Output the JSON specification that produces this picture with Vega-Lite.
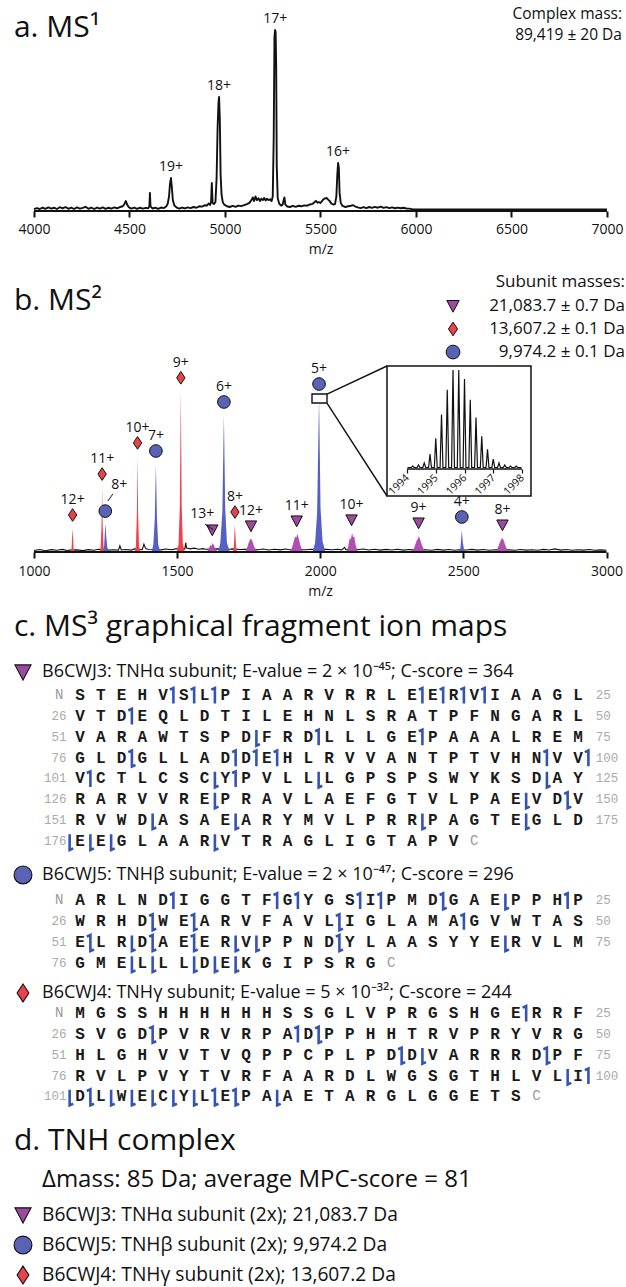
{
"$schema":"https://vega.github.io/schema/vega-lite/v6.json",
"width":626,"height":1287,"autosize":{"type":"none"},"padding":0,"background":"white",
"config":{"view":{"stroke":null},"font":"Open Sans","text":{"font":"Open Sans","color":"#111"}},
"datasets":{
"ms1":[{"mz":4000,"I":1},{"mz":4015,"I":1.6},{"mz":4030,"I":1.1},{"mz":4045,"I":1.9},{"mz":4060,"I":1.2},{"mz":4075,"I":2},{"mz":4090,"I":1.3},{"mz":4105,"I":1.8},{"mz":4120,"I":1.1},{"mz":4135,"I":2.1},{"mz":4150,"I":1.4},{"mz":4165,"I":2.2},{"mz":4180,"I":1.2},{"mz":4195,"I":1.9},{"mz":4210,"I":1.1},{"mz":4225,"I":2},{"mz":4240,"I":1.3},{"mz":4255,"I":1.7},{"mz":4270,"I":2.3},{"mz":4285,"I":1.2},{"mz":4300,"I":1.8},{"mz":4315,"I":1.1},{"mz":4330,"I":1.9},{"mz":4345,"I":1.3},{"mz":4360,"I":2},{"mz":4375,"I":1.2},{"mz":4390,"I":1.8},{"mz":4405,"I":1.3},{"mz":4420,"I":2},{"mz":4435,"I":1.5},{"mz":4450,"I":2.2},{"mz":4465,"I":2.6},{"mz":4474,"I":4},{"mz":4481,"I":5.5},{"mz":4488,"I":3.5},{"mz":4497,"I":2},{"mz":4510,"I":1.3},{"mz":4525,"I":1.9},{"mz":4540,"I":1.2},{"mz":4555,"I":1.8},{"mz":4570,"I":1.3},{"mz":4585,"I":1.7},{"mz":4598,"I":1.5},{"mz":4604,"I":2.5},{"mz":4607,"I":10},{"mz":4610,"I":2.5},{"mz":4620,"I":1.4},{"mz":4635,"I":1.8},{"mz":4650,"I":1.2},{"mz":4665,"I":1.9},{"mz":4680,"I":1.6},{"mz":4692,"I":2.5},{"mz":4700,"I":4},{"mz":4707,"I":8},{"mz":4712,"I":15},{"mz":4717,"I":18.2},{"mz":4721,"I":14},{"mz":4727,"I":6},{"mz":4735,"I":3},{"mz":4748,"I":1.8},{"mz":4760,"I":1.3},{"mz":4775,"I":1.9},{"mz":4790,"I":1.4},{"mz":4805,"I":2},{"mz":4820,"I":1.6},{"mz":4835,"I":2.2},{"mz":4850,"I":1.8},{"mz":4865,"I":2.6},{"mz":4880,"I":2.4},{"mz":4893,"I":3.2},{"mz":4905,"I":3},{"mz":4915,"I":4.2},{"mz":4922,"I":3.3},{"mz":4927,"I":5},{"mz":4931,"I":15.5},{"mz":4935,"I":4.5},{"mz":4942,"I":3.8},{"mz":4950,"I":5},{"mz":4956,"I":18},{"mz":4961,"I":45},{"mz":4966,"I":60},{"mz":4969,"I":63},{"mz":4973,"I":50},{"mz":4977,"I":20},{"mz":4982,"I":9},{"mz":4988,"I":5},{"mz":4996,"I":3.5},{"mz":5010,"I":2.6},{"mz":5025,"I":2.2},{"mz":5040,"I":2.8},{"mz":5055,"I":2.3},{"mz":5070,"I":3},{"mz":5085,"I":2.7},{"mz":5100,"I":3.2},{"mz":5115,"I":3.8},{"mz":5128,"I":4.5},{"mz":5138,"I":6},{"mz":5146,"I":7.5},{"mz":5152,"I":5.5},{"mz":5160,"I":8},{"mz":5167,"I":6},{"mz":5175,"I":7},{"mz":5183,"I":5.5},{"mz":5190,"I":6.8},{"mz":5198,"I":6},{"mz":5205,"I":7.2},{"mz":5213,"I":5.8},{"mz":5220,"I":6.8},{"mz":5228,"I":6},{"mz":5236,"I":6.5},{"mz":5244,"I":5.5},{"mz":5250,"I":8},{"mz":5255,"I":40},{"mz":5259,"I":96},{"mz":5262,"I":100},{"mz":5265,"I":99},{"mz":5268,"I":80},{"mz":5271,"I":25},{"mz":5276,"I":7},{"mz":5284,"I":4},{"mz":5294,"I":3},{"mz":5302,"I":3.5},{"mz":5307,"I":6},{"mz":5311,"I":7.5},{"mz":5316,"I":3.5},{"mz":5326,"I":2.5},{"mz":5340,"I":2.2},{"mz":5355,"I":2.8},{"mz":5370,"I":2.3},{"mz":5385,"I":2.9},{"mz":5400,"I":2.6},{"mz":5415,"I":3.1},{"mz":5430,"I":2.9},{"mz":5445,"I":3.6},{"mz":5458,"I":3.9},{"mz":5468,"I":4.8},{"mz":5476,"I":5.6},{"mz":5484,"I":4.6},{"mz":5492,"I":4.9},{"mz":5500,"I":4.4},{"mz":5508,"I":5.5},{"mz":5516,"I":6.5},{"mz":5524,"I":7},{"mz":5532,"I":7.2},{"mz":5540,"I":6.3},{"mz":5548,"I":5.5},{"mz":5556,"I":4.2},{"mz":5566,"I":3.6},{"mz":5576,"I":3.8},{"mz":5583,"I":8},{"mz":5588,"I":20},{"mz":5592,"I":26.5},{"mz":5596,"I":24},{"mz":5600,"I":10},{"mz":5606,"I":4.5},{"mz":5615,"I":2.8},{"mz":5630,"I":2.2},{"mz":5645,"I":2.6},{"mz":5660,"I":2.9},{"mz":5670,"I":3.2},{"mz":5680,"I":2.6},{"mz":5695,"I":2},{"mz":5710,"I":1.6},{"mz":5725,"I":2.1},{"mz":5740,"I":1.6},{"mz":5755,"I":2.2},{"mz":5770,"I":1.7},{"mz":5785,"I":2.3},{"mz":5800,"I":1.8},{"mz":5815,"I":2.4},{"mz":5830,"I":1.7},{"mz":5845,"I":2.1},{"mz":5860,"I":1.6},{"mz":5875,"I":2},{"mz":5890,"I":1.5},{"mz":5905,"I":1.9},{"mz":5920,"I":1.5},{"mz":5935,"I":1.8},{"mz":5950,"I":1.4},{"mz":5965,"I":1.3},{"mz":5980,"I":1},{"mz":6000,"I":0.8},{"mz":7000,"I":0.8}],
"ms1lab":[{"mz":4717,"I":18.2,"z":"19+"},{"mz":4969,"I":63,"z":"18+"},{"mz":5263,"I":100,"z":"17+"},{"mz":5592,"I":26.5,"z":"16+"}],
"ms2noise":[{"mz":1000,"I":1},{"mz":1020,"I":1.6},{"mz":1040,"I":0.8},{"mz":1060,"I":1.5},{"mz":1080,"I":1.1},{"mz":1100,"I":1.7},{"mz":1115,"I":1},{"mz":1125,"I":1.2},{"mz":1150,"I":1.4},{"mz":1170,"I":0.9},{"mz":1190,"I":1.5},{"mz":1210,"I":1.1},{"mz":1225,"I":1.8},{"mz":1260,"I":1.2},{"mz":1280,"I":1.5},{"mz":1295,"I":1.2},{"mz":1300,"I":4},{"mz":1305,"I":1.3},{"mz":1320,"I":1.6},{"mz":1340,"I":1.2},{"mz":1350,"I":2},{"mz":1378,"I":1.5},{"mz":1384,"I":5},{"mz":1390,"I":2.2},{"mz":1400,"I":1.6},{"mz":1445,"I":1.4},{"mz":1460,"I":1.9},{"mz":1480,"I":1.5},{"mz":1495,"I":2},{"mz":1527,"I":2},{"mz":1530,"I":6},{"mz":1533,"I":2.5},{"mz":1545,"I":2},{"mz":1560,"I":2.5},{"mz":1575,"I":1.8},{"mz":1590,"I":2.2},{"mz":1600,"I":1.8},{"mz":1640,"I":2},{"mz":1685,"I":1.8},{"mz":1692,"I":2},{"mz":1720,"I":1.6},{"mz":1735,"I":1.8},{"mz":1785,"I":1.5},{"mz":1800,"I":1.9},{"mz":1820,"I":1.3},{"mz":1840,"I":1.8},{"mz":1860,"I":1.4},{"mz":1880,"I":1.9},{"mz":1893,"I":1.5},{"mz":1950,"I":1.5},{"mz":1970,"I":1.8},{"mz":2020,"I":1.7},{"mz":2040,"I":1.5},{"mz":2060,"I":1.8},{"mz":2075,"I":1.4},{"mz":2085,"I":3},{"mz":2089,"I":1.6},{"mz":2133,"I":1.6},{"mz":2150,"I":1.9},{"mz":2170,"I":1.3},{"mz":2190,"I":1.8},{"mz":2210,"I":1.2},{"mz":2230,"I":1.7},{"mz":2250,"I":1.3},{"mz":2270,"I":1.8},{"mz":2290,"I":1.2},{"mz":2310,"I":1.6},{"mz":2320,"I":1.4},{"mz":2368,"I":1.5},{"mz":2390,"I":1.1},{"mz":2410,"I":1.7},{"mz":2430,"I":1.2},{"mz":2450,"I":1.6},{"mz":2470,"I":1.1},{"mz":2485,"I":1.5},{"mz":2510,"I":1.3},{"mz":2530,"I":1.7},{"mz":2550,"I":1.2},{"mz":2570,"I":1.6},{"mz":2590,"I":1.1},{"mz":2612,"I":1.5},{"mz":2660,"I":1.4},{"mz":2680,"I":1.1},{"mz":2700,"I":1.6},{"mz":2720,"I":1.2},{"mz":2740,"I":1.5},{"mz":2760,"I":1.1},{"mz":2780,"I":1.7},{"mz":2800,"I":1.3},{"mz":2820,"I":2},{"mz":2840,"I":1.2},{"mz":2860,"I":1.6},{"mz":2880,"I":1.1},{"mz":2900,"I":1.5},{"mz":2920,"I":1.2},{"mz":2940,"I":1.6},{"mz":2960,"I":1.1},{"mz":2980,"I":1.4},{"mz":3000,"I":1.1}],
"ms2peaks":[
{"p":"g12","sub":"γ","mz":1127,"I":0},{"p":"g12","sub":"γ","mz":1131,"I":2},{"p":"g12","sub":"γ","mz":1133,"I":9},{"p":"g12","sub":"γ","mz":1134.9,"I":15.5},{"p":"g12","sub":"γ","mz":1136.5,"I":9},{"p":"g12","sub":"γ","mz":1138.5,"I":2},{"p":"g12","sub":"γ","mz":1143,"I":0},
{"p":"g11","sub":"γ","mz":1229,"I":0},{"p":"g11","sub":"γ","mz":1233,"I":3},{"p":"g11","sub":"γ","mz":1236,"I":18},{"p":"g11","sub":"γ","mz":1238,"I":41.9},{"p":"g11","sub":"γ","mz":1240,"I":16},{"p":"g11","sub":"γ","mz":1243,"I":3},{"p":"g11","sub":"γ","mz":1247,"I":0},
{"p":"b8","sub":"β","mz":1241,"I":0},{"p":"b8","sub":"β","mz":1245,"I":4},{"p":"b8","sub":"β","mz":1248,"I":14},{"p":"b8","sub":"β","mz":1250,"I":18},{"p":"b8","sub":"β","mz":1252,"I":11},{"p":"b8","sub":"β","mz":1256,"I":3},{"p":"b8","sub":"β","mz":1262,"I":0},
{"p":"g10","sub":"γ","mz":1352,"I":0},{"p":"g10","sub":"γ","mz":1356,"I":4},{"p":"g10","sub":"γ","mz":1359.5,"I":25},{"p":"g10","sub":"γ","mz":1361.7,"I":62},{"p":"g10","sub":"γ","mz":1363.8,"I":24},{"p":"g10","sub":"γ","mz":1367,"I":4},{"p":"g10","sub":"γ","mz":1372,"I":0},
{"p":"b7","sub":"β","mz":1411,"I":0},{"p":"b7","sub":"β","mz":1417,"I":5},{"p":"b7","sub":"β","mz":1422,"I":22},{"p":"b7","sub":"β","mz":1425.9,"I":56.8},{"p":"b7","sub":"β","mz":1429.5,"I":22},{"p":"b7","sub":"β","mz":1434,"I":5},{"p":"b7","sub":"β","mz":1441,"I":0},
{"p":"g9","sub":"γ","mz":1499,"I":0},{"p":"g9","sub":"γ","mz":1505,"I":5},{"p":"g9","sub":"γ","mz":1509.5,"I":30},{"p":"g9","sub":"γ","mz":1512.9,"I":104},{"p":"g9","sub":"γ","mz":1516,"I":30},{"p":"g9","sub":"γ","mz":1520,"I":5},{"p":"g9","sub":"γ","mz":1527,"I":0},
{"p":"a13","sub":"α","mz":1604,"I":0},{"p":"a13","sub":"α","mz":1611,"I":2.5},{"p":"a13","sub":"α","mz":1617,"I":4.5},{"p":"a13","sub":"α","mz":1621,"I":4},{"p":"a13","sub":"α","mz":1624,"I":5.8},{"p":"a13","sub":"α","mz":1628,"I":4.5},{"p":"a13","sub":"α","mz":1634,"I":2},{"p":"a13","sub":"α","mz":1643,"I":0},
{"p":"b6","sub":"β","mz":1643,"I":0},{"p":"b6","sub":"β","mz":1651,"I":6},{"p":"b6","sub":"β","mz":1658,"I":26},{"p":"b6","sub":"β","mz":1663.4,"I":88.4},{"p":"b6","sub":"β","mz":1668,"I":28},{"p":"b6","sub":"β","mz":1674,"I":6},{"p":"b6","sub":"β","mz":1684,"I":0},
{"p":"g8","sub":"γ","mz":1694,"I":0},{"p":"g8","sub":"γ","mz":1698,"I":3},{"p":"g8","sub":"γ","mz":1700.5,"I":13},{"p":"g8","sub":"γ","mz":1701.9,"I":17.4},{"p":"g8","sub":"γ","mz":1703.5,"I":12},{"p":"g8","sub":"γ","mz":1706,"I":3},{"p":"g8","sub":"γ","mz":1710,"I":0},
{"p":"a12","sub":"α","mz":1737,"I":0},{"p":"a12","sub":"α","mz":1745,"I":3},{"p":"a12","sub":"α","mz":1750,"I":6},{"p":"a12","sub":"α","mz":1755,"I":8},{"p":"a12","sub":"α","mz":1759,"I":8.4},{"p":"a12","sub":"α","mz":1763,"I":7},{"p":"a12","sub":"α","mz":1768,"I":4},{"p":"a12","sub":"α","mz":1775,"I":1.5},{"p":"a12","sub":"α","mz":1783,"I":0},
{"p":"a11","sub":"α","mz":1894,"I":0},{"p":"a11","sub":"α","mz":1902,"I":3},{"p":"a11","sub":"α","mz":1909,"I":8},{"p":"a11","sub":"α","mz":1913,"I":10},{"p":"a11","sub":"α","mz":1917,"I":9.5},{"p":"a11","sub":"α","mz":1921,"I":11.6},{"p":"a11","sub":"α","mz":1925,"I":8.5},{"p":"a11","sub":"α","mz":1931,"I":4},{"p":"a11","sub":"α","mz":1940,"I":0},
{"p":"b5","sub":"β","mz":1973,"I":0},{"p":"b5","sub":"β","mz":1982,"I":6},{"p":"b5","sub":"β","mz":1989,"I":25},{"p":"b5","sub":"β","mz":1995.8,"I":100},{"p":"b5","sub":"β","mz":2001,"I":28},{"p":"b5","sub":"β","mz":2008,"I":7},{"p":"b5","sub":"β","mz":2018,"I":0},
{"p":"a10","sub":"α","mz":2089,"I":0},{"p":"a10","sub":"α","mz":2097,"I":3},{"p":"a10","sub":"α","mz":2103,"I":9},{"p":"a10","sub":"α","mz":2107,"I":8},{"p":"a10","sub":"α","mz":2111,"I":12.3},{"p":"a10","sub":"α","mz":2115,"I":9.5},{"p":"a10","sub":"α","mz":2119,"I":10},{"p":"a10","sub":"α","mz":2124,"I":4},{"p":"a10","sub":"α","mz":2133,"I":0},
{"p":"a9","sub":"α","mz":2321,"I":0},{"p":"a9","sub":"α","mz":2329,"I":3},{"p":"a9","sub":"α","mz":2336,"I":7},{"p":"a9","sub":"α","mz":2341,"I":8.5},{"p":"a9","sub":"α","mz":2345,"I":10.3},{"p":"a9","sub":"α","mz":2350,"I":7.5},{"p":"a9","sub":"α","mz":2356,"I":4},{"p":"a9","sub":"α","mz":2366,"I":0},
{"p":"b4","sub":"β","mz":2486,"I":0},{"p":"b4","sub":"β","mz":2490,"I":3},{"p":"b4","sub":"β","mz":2494.6,"I":14.2},{"p":"b4","sub":"β","mz":2498,"I":6},{"p":"b4","sub":"β","mz":2502,"I":2},{"p":"b4","sub":"β","mz":2508,"I":0},
{"p":"a8","sub":"α","mz":2614,"I":0},{"p":"a8","sub":"α","mz":2621,"I":3},{"p":"a8","sub":"α","mz":2627,"I":6},{"p":"a8","sub":"α","mz":2632,"I":8},{"p":"a8","sub":"α","mz":2636.5,"I":9},{"p":"a8","sub":"α","mz":2641,"I":7.5},{"p":"a8","sub":"α","mz":2647,"I":4},{"p":"a8","sub":"α","mz":2657,"I":0}],
"ann":[{"mz":1134.9,"I":15.5,"sub":"γ","z":"12+"},{"mz":1238,"I":41.9,"sub":"γ","z":"11+"},{"mz":1249,"I":18,"sub":"β","z":"8+"},{"mz":1361.7,"I":62,"sub":"γ","z":"10+"},{"mz":1425.9,"I":56.8,"sub":"β","z":"7+"},{"mz":1512.9,"I":104,"sub":"γ","z":"9+"},{"mz":1622.8,"I":5.8,"sub":"α","z":"13+"},{"mz":1663.4,"I":88.4,"sub":"β","z":"6+"},{"mz":1701.9,"I":17.4,"sub":"γ","z":"8+"},{"mz":1758,"I":8.4,"sub":"α","z":"12+"},{"mz":1917.7,"I":11.6,"sub":"α","z":"11+"},{"mz":1995.8,"I":100,"sub":"β","z":"5+"},{"mz":2109.4,"I":12.3,"sub":"α","z":"10+"},{"mz":2343.6,"I":10.3,"sub":"α","z":"9+"},{"mz":2494.6,"I":14.2,"sub":"β","z":"4+"},{"mz":2636.5,"I":9,"sub":"α","z":"8+"}],
"bleg":[{"sub":"α","I":158.7,"t":"21,083.7 ± 0.7 Da"},{"sub":"γ","I":143.9,"t":"13,607.2 ± 0.1 Da"},{"sub":"β","I":129.0,"t":"9,974.2 ± 0.1 Da"}],
"iso":[{"mz":1994.02,"I":1.5},{"mz":1994.15,"I":1.5},{"mz":1994.2,"I":3},{"mz":1994.25,"I":1.5},{"mz":1994.35,"I":1.5},{"mz":1994.4,"I":4},{"mz":1994.45,"I":1.5},{"mz":1994.55,"I":1.5},{"mz":1994.6,"I":6},{"mz":1994.65,"I":1.5},{"mz":1994.75,"I":1.5},{"mz":1994.8,"I":15},{"mz":1994.85,"I":1.5},{"mz":1994.95,"I":1.5},{"mz":1995.0,"I":31},{"mz":1995.05,"I":1.5},{"mz":1995.15,"I":1.5},{"mz":1995.2,"I":55},{"mz":1995.25,"I":1.5},{"mz":1995.35,"I":1.5},{"mz":1995.4,"I":80},{"mz":1995.45,"I":1.5},{"mz":1995.55,"I":1.5},{"mz":1995.6,"I":100},{"mz":1995.65,"I":1.5},{"mz":1995.75,"I":1.5},{"mz":1995.8,"I":100},{"mz":1995.85,"I":1.5},{"mz":1995.95,"I":1.5},{"mz":1996.0,"I":91},{"mz":1996.05,"I":1.5},{"mz":1996.15,"I":1.5},{"mz":1996.2,"I":70},{"mz":1996.25,"I":1.5},{"mz":1996.35,"I":1.5},{"mz":1996.4,"I":52},{"mz":1996.45,"I":1.5},{"mz":1996.55,"I":1.5},{"mz":1996.6,"I":33},{"mz":1996.65,"I":1.5},{"mz":1996.75,"I":1.5},{"mz":1996.8,"I":20},{"mz":1996.85,"I":1.5},{"mz":1996.95,"I":1.5},{"mz":1997.0,"I":10},{"mz":1997.05,"I":1.5},{"mz":1997.15,"I":1.5},{"mz":1997.2,"I":6},{"mz":1997.25,"I":1.5},{"mz":1997.35,"I":1.5},{"mz":1997.4,"I":4},{"mz":1997.45,"I":1.5},{"mz":1997.55,"I":1.5},{"mz":1997.6,"I":3},{"mz":1997.65,"I":1.5},{"mz":1997.75,"I":1.5},{"mz":1997.8,"I":3},{"mz":1997.85,"I":1.5},{"mz":1997.98,"I":1.5}],
"seq":[
{"line":1,"r":["S","T","E","H","V","S","L","P","I","A","A","R","V","R","R","L","E","E","R","V","I","A","A","G","L"]},
{"line":2,"r":["V","T","D","E","Q","L","D","T","I","L","E","H","N","L","S","R","A","T","P","F","N","G","A","R","L"]},
{"line":3,"r":["V","A","R","A","W","T","S","P","D","F","R","D","L","L","L","G","E","P","A","A","A","L","R","E","M"]},
{"line":4,"r":["G","L","D","G","L","L","A","D","D","E","H","L","R","V","V","A","N","T","P","T","V","H","N","V","V"]},
{"line":5,"r":["V","C","T","L","C","S","C","Y","P","V","L","L","L","G","P","S","P","S","W","Y","K","S","D","A","Y"]},
{"line":6,"r":["R","A","R","V","V","R","E","P","R","A","V","L","A","E","F","G","T","V","L","P","A","E","V","D","V"]},
{"line":7,"r":["R","V","W","D","A","S","A","E","A","R","Y","M","V","L","P","R","R","P","A","G","T","E","G","L","D"]},
{"line":8,"r":["E","E","G","L","A","A","R","V","T","R","A","G","L","I","G","T","A","P","V"]},
{"line":10.85,"r":["A","R","L","N","D","I","G","G","T","F","G","Y","G","S","I","P","M","D","G","A","E","P","P","H","P"]},
{"line":11.85,"r":["W","R","H","D","W","E","A","R","V","F","A","V","L","I","G","L","A","M","A","G","V","W","T","A","S"]},
{"line":12.85,"r":["E","L","R","D","A","E","E","R","V","P","P","N","D","Y","L","A","A","S","Y","Y","E","R","V","L","M"]},
{"line":13.85,"r":["G","M","E","L","L","L","D","E","K","G","I","P","S","R","G"]},
{"line":16.25,"r":["M","G","S","S","H","H","H","H","H","H","S","S","G","L","V","P","R","G","S","H","G","E","R","R","F"]},
{"line":17.25,"r":["S","V","G","D","P","V","R","V","R","P","A","D","P","P","H","H","T","R","V","P","R","Y","V","R","G"]},
{"line":18.25,"r":["H","L","G","H","V","V","T","V","Q","P","P","C","P","L","P","D","D","V","A","R","R","R","D","P","F"]},
{"line":19.25,"r":["R","V","L","P","V","Y","T","V","R","F","A","A","R","D","L","W","G","S","G","T","H","L","V","L","I"]},
{"line":20.25,"r":["D","L","W","E","C","Y","L","E","P","A","A","E","T","A","R","G","L","G","G","E","T","S"]}],
"marks":[
{"line":1,"g":5,"t":"n"},{"line":1,"g":6,"t":"n"},{"line":1,"g":7,"t":"n"},{"line":1,"g":17,"t":"n"},{"line":1,"g":18,"t":"n"},{"line":1,"g":19,"t":"n"},{"line":1,"g":20,"t":"n"},
{"line":2,"g":3,"t":"n"},
{"line":3,"g":9,"t":"c"},{"line":3,"g":12,"t":"n"},{"line":3,"g":17,"t":"n"},
{"line":4,"g":3,"t":"b"},{"line":4,"g":8,"t":"n"},{"line":4,"g":9,"t":"n"},{"line":4,"g":10,"t":"n"},{"line":4,"g":23,"t":"n"},{"line":4,"g":25,"t":"n"},
{"line":5,"g":1,"t":"n"},{"line":5,"g":7,"t":"c"},{"line":5,"g":8,"t":"n"},{"line":5,"g":12,"t":"c"},{"line":5,"g":23,"t":"c"},
{"line":6,"g":7,"t":"c"},{"line":6,"g":22,"t":"c"},{"line":6,"g":24,"t":"b"},
{"line":7,"g":4,"t":"c"},{"line":7,"g":8,"t":"c"},{"line":7,"g":17,"t":"c"},{"line":7,"g":22,"t":"c"},
{"line":8,"g":0,"t":"c"},{"line":8,"g":1,"t":"c"},{"line":8,"g":2,"t":"c"},{"line":8,"g":7,"t":"c"},
{"line":10.85,"g":5,"t":"n"},{"line":10.85,"g":10,"t":"n"},{"line":10.85,"g":11,"t":"n"},{"line":10.85,"g":14,"t":"n"},{"line":10.85,"g":15,"t":"n"},{"line":10.85,"g":18,"t":"b"},{"line":10.85,"g":21,"t":"c"},{"line":10.85,"g":24,"t":"n"},
{"line":11.85,"g":4,"t":"b"},{"line":11.85,"g":6,"t":"b"},{"line":11.85,"g":13,"t":"b"},{"line":11.85,"g":19,"t":"n"},
{"line":12.85,"g":1,"t":"b"},{"line":12.85,"g":3,"t":"c"},{"line":12.85,"g":4,"t":"b"},{"line":12.85,"g":6,"t":"b"},{"line":12.85,"g":8,"t":"c"},{"line":12.85,"g":9,"t":"c"},{"line":12.85,"g":13,"t":"b"},{"line":12.85,"g":21,"t":"c"},
{"line":13.85,"g":3,"t":"c"},{"line":13.85,"g":4,"t":"c"},{"line":13.85,"g":6,"t":"c"},{"line":13.85,"g":7,"t":"c"},{"line":13.85,"g":8,"t":"c"},
{"line":16.25,"g":22,"t":"n"},
{"line":17.25,"g":4,"t":"b"},{"line":17.25,"g":11,"t":"n"},{"line":17.25,"g":12,"t":"b"},
{"line":18.25,"g":16,"t":"b"},{"line":18.25,"g":17,"t":"c"},{"line":18.25,"g":23,"t":"b"},
{"line":19.25,"g":24,"t":"c"},{"line":19.25,"g":25,"t":"n"},
{"line":20.25,"g":0,"t":"c"},{"line":20.25,"g":1,"t":"b"},{"line":20.25,"g":2,"t":"c"},{"line":20.25,"g":3,"t":"c"},{"line":20.25,"g":4,"t":"c"},{"line":20.25,"g":5,"t":"c"},{"line":20.25,"g":6,"t":"c"},{"line":20.25,"g":7,"t":"b"},{"line":20.25,"g":8,"t":"b"},{"line":20.25,"g":10,"t":"c"}],
"nums":[{"line":1,"hi":"25"},{"line":2,"lo":"26","hi":"50"},{"line":3,"lo":"51","hi":"75"},{"line":4,"lo":"76","hi":"100"},{"line":5,"lo":"101","hi":"125"},{"line":6,"lo":"126","hi":"150"},{"line":7,"lo":"151","hi":"175"},{"line":8,"lo":"176"},
{"line":10.85,"hi":"25"},{"line":11.85,"lo":"26","hi":"50"},{"line":12.85,"lo":"51","hi":"75"},{"line":13.85,"lo":"76"},
{"line":16.25,"hi":"25"},{"line":17.25,"lo":"26","hi":"50"},{"line":18.25,"lo":"51","hi":"75"},{"line":19.25,"lo":"76","hi":"100"},{"line":20.25,"lo":"101"}],
"term":[{"line":1,"col":0,"t":"N"},{"line":8,"col":20,"t":"C"},{"line":10.85,"col":0,"t":"N"},{"line":13.85,"col":16,"t":"C"},{"line":16.25,"col":0,"t":"N"},{"line":20.25,"col":23,"t":"C"}],
"lab":[{"line":-0.1,"sub":"α","text":"B6CWJ3: TNHα subunit; E-value = 2 × 10⁻⁴⁵; C-score = 364"},{"line":9.63,"sub":"β","text":"B6CWJ5: TNHβ subunit; E-value = 2 × 10⁻⁴⁷; C-score = 296"},{"line":15.29,"sub":"γ","text":"B6CWJ4: TNHγ subunit; E-value = 5 × 10⁻³²; C-score = 244"},{"line":25.94,"sub":"α","text":"B6CWJ3: TNHα subunit (2x); 21,083.7 Da"},{"line":27.38,"sub":"β","text":"B6CWJ5: TNHβ subunit (2x); 9,974.2 Da"},{"line":28.82,"sub":"γ","text":"B6CWJ4: TNHγ subunit (2x); 13,607.2 Da"}],
"ticksA":[{"v":4000},{"v":4500},{"v":5000},{"v":5500},{"v":6000},{"v":6500},{"v":7000}],
"ticksB":[{"v":1000},{"v":1500},{"v":2000},{"v":2500},{"v":3000}],
"ticksI":[{"v":1994},{"v":1995},{"v":1996},{"v":1997},{"v":1998}]
},
"resolve":{"scale":{"x":"independent","y":"independent"}},
"layer":[
{"data":{"name":"ticksA"},"mark":{"type":"point","opacity":0},
 "encoding":{"x":{"field":"v","type":"quantitative","scale":{"domain":[3821.99,7099.48],"nice":false,"zero":false},
   "axis":{"orient":"bottom","offset":-1076,"values":[4000,4500,5000,5500,6000,6500,7000],"format":"d","domain":false,"grid":false,"tickSize":6,"tickWidth":2,"tickColor":"#111","labelFontSize":14,"labelFont":"Open Sans","labelColor":"#111","labelPadding":5,"labelFlush":false,"labelOverlap":false,"labelBound":false,"title":"m/z","titleFont":"Open Sans","titleFontSize":14,"titleFontWeight":"normal","titleColor":"#111","titleX":320.5,"titleY":38,"titleBaseline":"middle","titleAlign":"center"}},
  "y":{"datum":0,"type":"quantitative","scale":{"domain":[-594.48,116.57],"nice":false,"zero":false},"axis":null}}},
{"data":{"name":"ticksB"},"mark":{"type":"point","opacity":0},
 "encoding":{"x":{"field":"v","type":"quantitative","scale":{"domain":[881.22,3068.12],"nice":false,"zero":false},
   "axis":{"orient":"bottom","offset":-735,"values":[1000,1500,2000,2500,3000],"format":"d","domain":false,"grid":false,"tickSize":6,"tickWidth":2,"tickColor":"#111","labelFontSize":14,"labelFont":"Open Sans","labelColor":"#111","labelPadding":6,"labelFlush":false,"labelOverlap":false,"labelBound":false,"title":"m/z","titleFont":"Open Sans","titleFontSize":14,"titleFontWeight":"normal","titleColor":"#111","titleX":320,"titleY":39,"titleBaseline":"middle","titleAlign":"center"}},
  "y":{"datum":0,"type":"quantitative","scale":{"domain":[-474.19,356.13],"nice":false,"zero":false},"axis":null}}},
{"data":{"name":"ms1"},"layer":[
 {"mark":{"type":"line","color":"#111","strokeWidth":1.9,"strokeJoin":"round"},
  "encoding":{"x":{"field":"mz","type":"quantitative","scale":{"domain":[3821.99,7099.48],"nice":false,"zero":false},"axis":null},
   "y":{"field":"I","type":"quantitative","scale":{"domain":[-594.48,116.57],"nice":false,"zero":false},"axis":null}}},
 {"data":{"values":[{}]},"mark":{"type":"rule","color":"#111","strokeWidth":2},"encoding":{"x":{"datum":4000,"axis":null},"x2":{"datum":7000},"y":{"datum":0,"axis":null}}},
 {"data":{"name":"ms1lab"},"mark":{"type":"text","fontSize":14,"dy":-11,"baseline":"middle"},"encoding":{"x":{"field":"mz","type":"quantitative","axis":null},"y":{"field":"I","type":"quantitative","axis":null},"text":{"field":"z"}}},
 {"data":{"values":[{"t":"a. MS¹"}]},"mark":{"type":"text","fontSize":30,"align":"left","baseline":"alphabetic"},"encoding":{"x":{"datum":3895,"axis":null},"y":{"datum":96.1,"axis":null},"text":{"field":"t"}}},
 {"data":{"values":[{"t":"Complex mass:"}]},"mark":{"type":"text","fontSize":15.5,"align":"right","baseline":"alphabetic"},"encoding":{"x":{"datum":7078.5,"axis":null},"y":{"datum":106.07,"axis":null},"text":{"field":"t"}}},
 {"data":{"values":[{"t":"89,419 ± 20 Da"}]},"mark":{"type":"text","fontSize":15.5,"align":"right","baseline":"alphabetic"},"encoding":{"x":{"datum":7078.5,"axis":null},"y":{"datum":94.2,"axis":null},"text":{"field":"t"}}}
]},
{"data":{"name":"ms2noise"},"layer":[
 {"mark":{"type":"line","color":"#111","strokeWidth":1.1},
  "encoding":{"x":{"field":"mz","type":"quantitative","scale":{"domain":[881.22,3068.12],"nice":false,"zero":false},"axis":null},
   "y":{"field":"I","type":"quantitative","scale":{"domain":[-474.19,356.13],"nice":false,"zero":false},"axis":null}}},
 {"data":{"name":"ms2peaks"},"mark":{"type":"area","opacity":1,"interpolate":"linear"},
  "encoding":{"x":{"field":"mz","type":"quantitative","axis":null},"y":{"field":"I","type":"quantitative","stack":null,"axis":null},
   "color":{"field":"sub","type":"nominal","scale":{"domain":["α","β","γ"],"range":["#b04fb2","#5660c4","#f2404e"]},"legend":null},
   "detail":{"field":"p"}}},
 {"data":{"values":[{}]},"mark":{"type":"rule","color":"#111","strokeWidth":2},"encoding":{"x":{"datum":1000,"axis":null},"x2":{"datum":3000},"y":{"datum":0,"axis":null}}},
 {"data":{"values":[{}]},"mark":{"type":"rect","fill":"white","stroke":"#111","strokeWidth":1.4},"encoding":{"x":{"datum":1971.2,"axis":null},"x2":{"datum":2023.6},"y":{"datum":96.1,"axis":null},"y2":{"datum":101.9}}},
 {"data":{"values":[{}]},"mark":{"type":"rule","color":"#111","strokeWidth":1.4},"encoding":{"x":{"datum":2023.6,"axis":null},"x2":{"datum":2233.2},"y":{"datum":101.9,"axis":null},"y2":{"datum":120.0}}},
 {"data":{"values":[{}]},"mark":{"type":"rule","color":"#111","strokeWidth":1.4},"encoding":{"x":{"datum":2023.6,"axis":null},"x2":{"datum":2233.2},"y":{"datum":96.1,"axis":null},"y2":{"datum":36.13}}},
 {"data":{"values":[{}]},"mark":{"type":"rect","fill":"white","stroke":"#111","strokeWidth":1.5},"encoding":{"x":{"datum":2233.2,"axis":null},"x2":{"datum":2736.2},"y":{"datum":36.13,"axis":null},"y2":{"datum":120.0}}},
 {"data":{"name":"ann"},"mark":{"type":"point","filled":true,"opacity":1,"size":160,"stroke":"#111","strokeWidth":1,"yOffset":-13},
  "encoding":{"x":{"field":"mz","type":"quantitative","axis":null},"y":{"field":"I","type":"quantitative","axis":null},
   "shape":{"field":"sub","type":"nominal","scale":{"domain":["α","β","γ","n","c","b"],"range":["M-0.9,-0.8L0.9,-0.8L0,0.9Z","circle","M0,-1L0.66,0L0,1L-0.66,0Z","M-0.45,-0.8L0,-1L0,0.95","M0,-0.95L0,1L0.45,0.8","M-0.45,-0.8L0,-1L0,1L0.45,0.8"]},"legend":null},
   "fill":{"field":"sub","type":"nominal","scale":{"domain":["α","β","γ"],"range":["#9b4a9f","#5a62b6","#e8434d"]},"legend":null}}},
 {"data":{"name":"ann"},"transform":[{"filter":"!(datum.sub=='β' && datum.z=='8+') && !(datum.sub=='α' && datum.z=='13+')"}],"mark":{"type":"text","fontSize":14,"dy":-28,"baseline":"middle"},
  "encoding":{"x":{"field":"mz","type":"quantitative","axis":null},"y":{"field":"I","type":"quantitative","axis":null},"text":{"field":"z"}}},
 {"data":{"name":"ann"},"transform":[{"filter":"datum.sub=='β' && datum.z=='8+'"}],"mark":{"type":"text","fontSize":14,"dx":14,"dy":-39,"baseline":"middle"},
  "encoding":{"x":{"field":"mz","type":"quantitative","axis":null},"y":{"field":"I","type":"quantitative","axis":null},"text":{"field":"z"}}},
 {"data":{"name":"ann"},"transform":[{"filter":"datum.sub=='α' && datum.z=='13+'"}],"mark":{"type":"text","fontSize":14,"dx":-10,"dy":-29,"baseline":"middle"},
  "encoding":{"x":{"field":"mz","type":"quantitative","axis":null},"y":{"field":"I","type":"quantitative","axis":null},"text":{"field":"z"}}},
 {"data":{"name":"ann"},"transform":[{"filter":"datum.sub=='β' && datum.z=='8+'"}],"mark":{"type":"point","shape":"M-1,1.4L1,-1.4","size":25,"filled":false,"stroke":"#111","strokeWidth":1,"opacity":1,"xOffset":5,"yOffset":-26.5},
  "encoding":{"x":{"field":"mz","type":"quantitative","axis":null},"y":{"field":"I","type":"quantitative","axis":null}}},
 {"data":{"name":"ann"},"transform":[{"filter":"datum.sub=='α' && datum.z=='13+'"}],"mark":{"type":"point","shape":"M-1,-0.66L1,0.66","size":74,"filled":false,"stroke":"#111","strokeWidth":1,"opacity":1,"xOffset":-3,"yOffset":-16},
  "encoding":{"x":{"field":"mz","type":"quantitative","axis":null},"y":{"field":"I","type":"quantitative","axis":null}}},
 {"data":{"values":[{"t":"b. MS²"}]},"mark":{"type":"text","fontSize":30,"align":"left","baseline":"alphabetic"},"encoding":{"x":{"datum":930,"axis":null},"y":{"datum":156.1,"axis":null},"text":{"field":"t"}}},
 {"data":{"values":[{"t":"Subunit masses:"}]},"mark":{"type":"text","fontSize":17,"align":"right","baseline":"middle"},"encoding":{"x":{"datum":3064.6,"axis":null},"y":{"datum":174.2,"axis":null},"text":{"field":"t"}}},
 {"data":{"name":"bleg"},"mark":{"type":"point","filled":true,"opacity":1,"size":190,"stroke":"#111","strokeWidth":1},
  "encoding":{"x":{"datum":2463.8,"axis":null},"y":{"field":"I","type":"quantitative","axis":null},"shape":{"field":"sub","type":"nominal","legend":null},"fill":{"field":"sub","type":"nominal","legend":null}}},
 {"data":{"name":"bleg"},"mark":{"type":"text","fontSize":17,"align":"right","baseline":"middle"},
  "encoding":{"x":{"datum":3064.6,"axis":null},"y":{"field":"I","type":"quantitative","axis":null},"text":{"field":"t"}}}
]},
{"data":{"name":"ticksI"},"mark":{"type":"point","opacity":0},
 "encoding":{"x":{"field":"v","type":"quantitative","scale":{"domain":[1979.843,2001.617],"nice":false,"zero":false},
   "axis":{"orient":"bottom","offset":-818,"zindex":2,"values":[1994,1995,1996,1997,1998],"format":"d","domain":false,"grid":false,"tickSize":4,"tickWidth":1.2,"tickColor":"#111","labelAngle":315,"labelAlign":"right","labelBaseline":"middle","labelFontSize":10.5,"labelFont":"Open Sans","labelColor":"#111","labelPadding":3,"labelFlush":false,"labelOverlap":false,"labelBound":false,"title":null}},
  "y":{"datum":0,"type":"quantitative","scale":{"domain":[-826.26,473.74],"nice":false,"zero":false},"axis":null}}},
{"data":{"name":"iso"},"layer":[
 {"mark":{"type":"line","color":"#111","strokeWidth":1.2},
  "encoding":{"x":{"field":"mz","type":"quantitative","scale":{"domain":[1979.843,2001.617],"nice":false,"zero":false},"axis":null},
   "y":{"field":"I","type":"quantitative","scale":{"domain":[-826.26,473.74],"nice":false,"zero":false},"axis":null}}},
 {"data":{"values":[{}]},"mark":{"type":"rule","color":"#111","strokeWidth":1.3},"encoding":{"x":{"datum":1994,"axis":null},"x2":{"datum":1998},"y":{"datum":0,"axis":null}}}
]},
{"layer":[
 {"data":{"name":"seq"},"transform":[{"flatten":["r"]},{"window":[{"op":"row_number","as":"col"}],"groupby":["line"]}],
  "mark":{"type":"text","font":"Liberation Mono","fontWeight":"bold","fontSize":16,"baseline":"middle","align":"center","color":"#1a1a1a"},
  "encoding":{"x":{"field":"col","type":"quantitative","scale":{"domain":[-2.855,27.313],"nice":false,"zero":false},"axis":null},
   "y":{"field":"line","type":"quantitative","scale":{"domain":[-32.333,29.393],"reverse":true,"nice":false,"zero":false},"axis":null},
   "text":{"field":"r"}}},
 {"data":{"name":"marks"},"mark":{"type":"point","filled":false,"color":"#3553b3","stroke":"#3553b3","strokeWidth":2.6,"size":256,"opacity":1,"xOffset":10.4,"yOffset":1},
  "encoding":{"x":{"field":"g","type":"quantitative","axis":null},"y":{"field":"line","type":"quantitative","axis":null},"shape":{"field":"t","type":"nominal","legend":null}}},
 {"data":{"name":"term"},"mark":{"type":"text","font":"Liberation Mono","fontSize":14,"baseline":"middle","align":"center","color":"#999"},
  "encoding":{"x":{"field":"col","type":"quantitative","axis":null},"y":{"field":"line","type":"quantitative","axis":null},"text":{"field":"t"}}},
 {"data":{"name":"nums"},"transform":[{"filter":"datum.lo"}],"mark":{"type":"text","font":"Liberation Mono","fontSize":12.5,"baseline":"middle","align":"right","color":"#aaa"},
  "encoding":{"x":{"datum":0.35,"axis":null},"y":{"field":"line","type":"quantitative","axis":null},"text":{"field":"lo"}}},
 {"data":{"name":"nums"},"transform":[{"filter":"datum.hi"}],"mark":{"type":"text","font":"Liberation Mono","fontSize":12.5,"baseline":"middle","align":"left","color":"#aaa"},
  "encoding":{"x":{"datum":25.85,"axis":null},"y":{"field":"line","type":"quantitative","axis":null},"text":{"field":"hi"}}},
 {"data":{"name":"lab"},"mark":{"type":"point","filled":true,"opacity":1,"size":320,"stroke":"#111","strokeWidth":1.1},
  "encoding":{"x":{"datum":-1.747,"axis":null},"y":{"field":"line","type":"quantitative","axis":null},"shape":{"field":"sub","type":"nominal","legend":null},"fill":{"field":"sub","type":"nominal","legend":null}}},
 {"data":{"name":"lab"},"transform":[{"filter":"datum.line < 22"}],"mark":{"type":"text","fontSize":18,"align":"left","baseline":"middle"},
  "encoding":{"x":{"datum":-0.831,"axis":null},"y":{"field":"line","type":"quantitative","axis":null},"text":{"field":"text"}}},
 {"data":{"name":"lab"},"transform":[{"filter":"datum.line > 22"}],"mark":{"type":"text","fontSize":19.2,"align":"left","baseline":"middle"},
  "encoding":{"x":{"datum":-0.831,"axis":null},"y":{"field":"line","type":"quantitative","axis":null},"text":{"field":"text"}}},
 {"data":{"values":[{"t":"c. MS³ graphical fragment ion maps"}]},"mark":{"type":"text","fontSize":30,"align":"left","baseline":"alphabetic"},"encoding":{"x":{"datum":-2.181,"axis":null},"y":{"datum":-1.83,"axis":null},"text":{"field":"t"}}},
 {"data":{"values":[{"t":"d. TNH complex"}]},"mark":{"type":"text","fontSize":30,"align":"left","baseline":"alphabetic"},"encoding":{"x":{"datum":-2.181,"axis":null},"y":{"datum":22.82,"axis":null},"text":{"field":"t"}}},
 {"data":{"values":[{"t":"Δmass: 85 Da; average MPC-score = 81"}]},"mark":{"type":"text","fontSize":24,"align":"left","baseline":"middle"},"encoding":{"x":{"datum":-0.831,"axis":null},"y":{"datum":24.26,"axis":null},"text":{"field":"t"}}}
]}
]
}
